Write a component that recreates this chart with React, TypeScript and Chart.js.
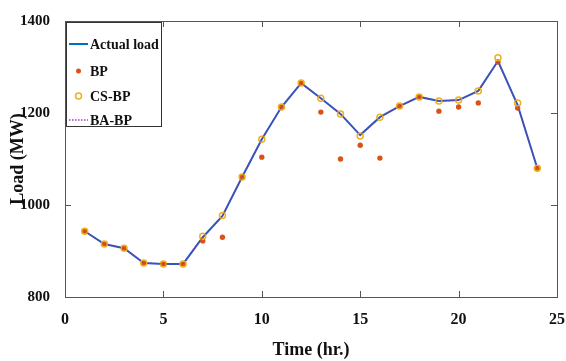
import React, { useEffect, useRef } from "react";
import { Chart, registerables } from "chart.js";
Chart.register(...registerables);

const hours = [1, 2, 3, 4, 5, 6, 7, 8, 9, 10, 11, 12, 13, 14, 15, 16, 17, 18, 19, 20, 21, 22, 23, 24];
const actualLoad = [943, 915, 906, 874, 872, 872, 930, 976, 1061, 1143, 1213, 1265, 1232, 1198, 1152, 1191, 1215, 1235, 1226, 1228, 1248, 1313, 1217, 1080];
const bpValues = [943, 915, 906, 874, 872, 872, 922, 930, 1061, 1104, 1213, 1265, 1202, 1100, 1130, 1102, 1215, 1235, 1204, 1213, 1222, 1311, 1211, 1080];
const csbpValues = [943, 915, 906, 874, 872, 872, 932, 977, 1061, 1143, 1213, 1265, 1232, 1198, 1150, 1191, 1215, 1235, 1226, 1228, 1248, 1320, 1222, 1080];
const babpValues = [943, 915, 906, 874, 872, 872, 930, 976, 1061, 1143, 1213, 1265, 1232, 1198, 1152, 1191, 1215, 1235, 1226, 1228, 1248, 1313, 1217, 1080];
const xTicks = [0, 5, 10, 15, 20, 25];
const yTicks = [800, 1000, 1200, 1400];
const legendLabels = ["Actual load", "BP", "CS-BP", "BA-BP"];

const FONT = "'Liberation Serif', 'DejaVu Serif', serif";

const toXY = (vals: number[]) => vals.map((v, i) => ({ x: hours[i], y: v }));

const boxPlugin = {
  id: "matlabBox",
  afterDraw(chart: any) {
    const { ctx, chartArea: a, scales } = chart;
    ctx.save();
    ctx.strokeStyle = "#555";
    ctx.lineWidth = 1;
    ctx.strokeRect(a.left + 0.5, a.top + 0.5, a.right - a.left, a.bottom - a.top);
    const tl = 6;
    ctx.beginPath();
    xTicks.forEach((t) => {
      const px = Math.round(scales.x.getPixelForValue(t)) + 0.5;
      ctx.moveTo(px, a.bottom);
      ctx.lineTo(px, a.bottom - tl);
      ctx.moveTo(px, a.top);
      ctx.lineTo(px, a.top + tl);
    });
    yTicks.forEach((t) => {
      const py = Math.round(scales.y.getPixelForValue(t)) + 0.5;
      ctx.moveTo(a.left, py);
      ctx.lineTo(a.left + tl, py);
      ctx.moveTo(a.right, py);
      ctx.lineTo(a.right - tl, py);
    });
    ctx.stroke();

    // legend box
    const lx = a.left + 1, ly = a.top + 1, lw = 95, lh = 104;
    ctx.fillStyle = "#fff";
    ctx.fillRect(lx, ly, lw, lh);
    ctx.strokeStyle = "#333";
    ctx.strokeRect(lx + 0.5, ly + 0.5, lw, lh);
    ctx.font = `bold 14px ${FONT}`;
    ctx.textBaseline = "middle";
    ctx.textAlign = "left";
    const rows = [ly + 22, ly + 49, ly + 74, ly + 98];
    const sx0 = lx + 3, sx1 = lx + 22, tx = lx + 24;
    ctx.strokeStyle = "#0072BD";
    ctx.lineWidth = 2;
    ctx.setLineDash([]);
    ctx.beginPath();
    ctx.moveTo(sx0, rows[0]);
    ctx.lineTo(sx1, rows[0]);
    ctx.stroke();
    ctx.fillStyle = "#D95319";
    ctx.beginPath();
    ctx.arc((sx0 + sx1) / 2, rows[1], 2.5, 0, Math.PI * 2);
    ctx.fill();
    ctx.strokeStyle = "#EDB120";
    ctx.lineWidth = 1.5;
    ctx.beginPath();
    ctx.arc((sx0 + sx1) / 2, rows[2], 3, 0, Math.PI * 2);
    ctx.stroke();
    ctx.strokeStyle = "#A43AB8";
    ctx.lineWidth = 1.5;
    ctx.setLineDash([1.5, 1.5]);
    ctx.beginPath();
    ctx.moveTo(sx0, rows[3]);
    ctx.lineTo(sx1, rows[3]);
    ctx.stroke();
    ctx.setLineDash([]);
    ctx.fillStyle = "#111";
    legendLabels.forEach((l, i) => ctx.fillText(l, tx, rows[i] + 1));
    ctx.restore();
  },
};

export default function App() {
  const ref = useRef<HTMLCanvasElement>(null);
  useEffect(() => {
    document.body.style.margin = "0";
    const chart = new Chart(ref.current!, {
      type: "scatter",
      data: {
        datasets: [
          {
            label: legendLabels[0],
            data: toXY(actualLoad),
            showLine: true,
            borderColor: "#2F5BC4",
            borderWidth: 2,
            pointRadius: 0,
            order: 4,
          },
          {
            label: legendLabels[1],
            data: toXY(bpValues),
            showLine: false,
            backgroundColor: "#D95319",
            borderColor: "#D95319",
            borderWidth: 0,
            pointRadius: 2.7,
            order: 3,
          },
          {
            label: legendLabels[2],
            data: toXY(csbpValues),
            showLine: false,
            backgroundColor: "rgba(0,0,0,0)",
            borderColor: "#EDB120",
            borderWidth: 1.5,
            pointRadius: 3,
            order: 2,
          },
          {
            label: legendLabels[3],
            data: toXY(babpValues),
            showLine: true,
            borderColor: "rgba(126,47,142,0.6)",
            borderWidth: 1.2,
            borderDash: [1.5, 1.5],
            pointRadius: 0,
            order: 1,
          },
        ],
      },
      options: {
        animation: false,
        responsive: false,
        layout: { padding: { top: 21, right: 0, left: 0, bottom: 0 } },
        plugins: { legend: { display: false }, tooltip: { enabled: false } },
        scales: {
          x: {
            type: "linear",
            min: 0,
            max: 25,
            afterBuildTicks: (s: any) => {
              s.ticks = xTicks.map((v) => ({ value: v }));
            },
            afterFit: (s: any) => {
              s.height = 64;
              s.paddingRight = 9;
              s.paddingLeft = 0;
            },
            grid: { display: false },
            border: { display: false },
            ticks: {
              color: "#111",
              font: { family: FONT, size: 16, weight: "bold" },
              padding: 5,
              maxRotation: 0,
              callback: (v: any) => String(v),
            },
            title: {
              display: true,
              text: "Time (hr.)",
              color: "#111",
              font: { family: FONT, size: 18, weight: "bold" },
              padding: { top: 4, bottom: 0 },
            },
          },
          y: {
            type: "linear",
            min: 800,
            max: 1400,
            afterBuildTicks: (s: any) => {
              s.ticks = yTicks.map((v) => ({ value: v }));
            },
            afterFit: (s: any) => {
              s.width = 65;
            },
            grid: { display: false },
            border: { display: false },
            ticks: {
              color: "#111",
              font: { family: FONT, size: 15, weight: "bold" },
              padding: 7,
              callback: (v: any) => String(v),
            },
            title: {
              display: true,
              text: "Load (MW)",
              color: "#111",
              font: { family: FONT, size: 18, weight: "bold" },
              padding: { top: 8, bottom: 0 },
            },
          },
        },
      },
      plugins: [boxPlugin],
    } as any);
    return () => chart.destroy();
  }, []);
  return <canvas ref={ref} width={566} height={361} style={{ display: "block" }} />;
}
